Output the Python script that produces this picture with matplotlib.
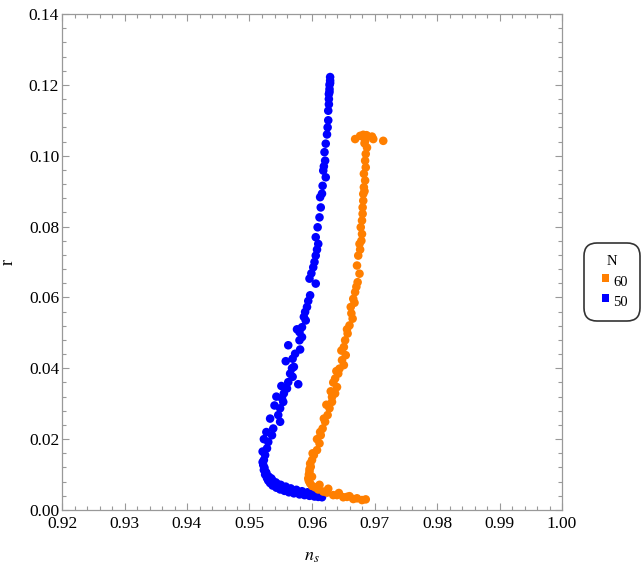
import numpy as np
import matplotlib
matplotlib.use("Agg")
import matplotlib.pyplot as plt
from matplotlib.ticker import MultipleLocator
from matplotlib.path import Path

plt.rcParams['font.family'] = ['Liberation Serif', 'DejaVu Serif']
plt.rcParams['mathtext.fontset'] = 'stix'

# N = 50 (blue) from top to bottom
ns_50 = [0.9629, 0.9629, 0.9628, 0.9628, 0.9627, 0.9627, 0.9626, 0.9626, 0.9625, 0.9624,
         0.9622, 0.9621, 0.9618, 0.9622, 0.9616, 0.9613, 0.9614, 0.9612, 0.9609, 0.9606,
         0.9610, 0.9606, 0.9602, 0.9596, 0.9606, 0.9597, 0.9592, 0.9589, 0.9590, 0.9584,
         0.9580, 0.9584, 0.9580, 0.9562, 0.9581, 0.9573, 0.9569, 0.9571, 0.9568, 0.9565,
         0.9569, 0.9562, 0.9578, 0.9560, 0.9555, 0.9552, 0.9554, 0.9549, 0.9546, 0.9549,
         0.9538, 0.9536, 0.9530, 0.9528, 0.9525, 0.9523, 0.9522, 0.9523, 0.9525, 0.9528,
         0.9530, 0.9533, 0.9537, 0.9543, 0.9549, 0.9556, 0.9563, 0.9571, 0.9580, 0.9588,
         0.9596, 0.9604, 0.9610, 0.9616, 0.9524, 0.9527, 0.9531, 0.9536, 0.9542, 0.9550,
         0.9558, 0.9566, 0.9575, 0.9584, 0.9593, 0.9602, 0.9611,
         0.9629, 0.9628, 0.9627, 0.9620, 0.9619, 0.9617, 0.9608, 0.9604, 0.9599, 0.9594,
         0.9587, 0.9576, 0.9558, 0.9551, 0.9543, 0.9540, 0.9533, 0.9527, 0.9523, 0.9521,
         0.9521, 0.9526, 0.9535, 0.9545, 0.9553]
r_50 = [0.1222, 0.1212, 0.1200, 0.1188, 0.1174, 0.1160, 0.1127, 0.1100, 0.1080, 0.1060,
        0.1034, 0.0986, 0.0958, 0.0939, 0.0893, 0.0883, 0.0854, 0.0826, 0.0798, 0.0770,
        0.0751, 0.0718, 0.0685, 0.0653, 0.0639, 0.0606, 0.0573, 0.0559, 0.0535, 0.0516,
        0.0502, 0.0488, 0.0479, 0.0465, 0.0453, 0.0441, 0.0427, 0.0404, 0.0400, 0.0385,
        0.0376, 0.0361, 0.0355, 0.0343, 0.0329, 0.0315, 0.0305, 0.0287, 0.0268, 0.0249,
        0.0230, 0.0211, 0.0192, 0.0174, 0.0155, 0.0141, 0.0127, 0.0113, 0.0100, 0.0090,
        0.0083, 0.0076, 0.0069, 0.0063, 0.0058, 0.0054, 0.0050, 0.0047, 0.0044, 0.0042,
        0.0040, 0.0038, 0.0037, 0.0036, 0.0119, 0.0105, 0.0094, 0.0085, 0.0078, 0.0071,
        0.0066, 0.0061, 0.0057, 0.0053, 0.0050, 0.0047, 0.0044,
        0.1205, 0.1180, 0.1145, 0.1010, 0.0970, 0.0915, 0.0735, 0.0700, 0.0668, 0.0590,
        0.0545, 0.0510, 0.0420, 0.0350, 0.0320, 0.0295, 0.0258, 0.0220, 0.0200, 0.0165,
        0.0135, 0.0107, 0.0089, 0.0073, 0.0065]

# N = 60 (orange)
ns_60 = [0.9669, 0.9677, 0.9682, 0.9688, 0.9696, 0.9698, 0.9685, 0.9714, 0.9688, 0.9686,
         0.9685, 0.9686, 0.9683, 0.9685, 0.9683, 0.9682, 0.9682, 0.9681, 0.9681, 0.9680,
         0.9678, 0.9680, 0.9676, 0.9674, 0.9672, 0.9676, 0.9673, 0.9669, 0.9666, 0.9662,
         0.9665, 0.9660, 0.9657, 0.9653, 0.9651, 0.9654, 0.9648, 0.9651, 0.9644, 0.9642,
         0.9637, 0.9640, 0.9637, 0.9632, 0.9632, 0.9628, 0.9625, 0.9621, 0.9617, 0.9614,
         0.9612, 0.9608, 0.9603, 0.9600, 0.9598, 0.9596, 0.9594, 0.9597, 0.9605, 0.9618,
         0.9634, 0.9650, 0.9666, 0.9680, 0.9595, 0.9595, 0.9600, 0.9610, 0.9624, 0.9640,
         0.9656, 0.9672, 0.9686,
         0.9683, 0.9684, 0.9687, 0.9684, 0.9679, 0.9677, 0.9671, 0.9668, 0.9663, 0.9656,
         0.9647, 0.9639, 0.9634, 0.9630, 0.9623, 0.9619, 0.9613, 0.9608, 0.9601, 0.9597,
         0.9596, 0.9600, 0.9612, 0.9626, 0.9643, 0.9660]
r_60 = [0.1047, 0.1056, 0.1059, 0.1056, 0.1054, 0.1047, 0.1042, 0.1042, 0.1023, 0.1005,
        0.0986, 0.0967, 0.0949, 0.0930, 0.0911, 0.0892, 0.0873, 0.0854, 0.0836, 0.0817,
        0.0798, 0.0779, 0.0751, 0.0718, 0.0690, 0.0667, 0.0643, 0.0615, 0.0596, 0.0573,
        0.0540, 0.0521, 0.0498, 0.0479, 0.0460, 0.0437, 0.0423, 0.0409, 0.0399, 0.0385,
        0.0371, 0.0347, 0.0329, 0.0319, 0.0305, 0.0287, 0.0268, 0.0249, 0.0230, 0.0211,
        0.0188, 0.0169, 0.0155, 0.0141, 0.0122, 0.0108, 0.0089, 0.0075, 0.0064, 0.0052,
        0.0042, 0.0036, 0.0031, 0.0028, 0.0100, 0.0082, 0.0068, 0.0058, 0.0049, 0.0042,
        0.0037, 0.0033, 0.0030,
        0.1052, 0.1035, 0.1058, 0.0900, 0.0760, 0.0735, 0.0630, 0.0585, 0.0555, 0.0510,
        0.0450, 0.0392, 0.0360, 0.0335, 0.0297, 0.0258, 0.0220, 0.0200, 0.0160, 0.0131,
        0.0115, 0.0094, 0.0071, 0.0060, 0.0048, 0.0039]

x_ticks = [0.92, 0.93, 0.94, 0.95, 0.96, 0.97, 0.98, 0.99, 1.00]
y_ticks = [0.00, 0.02, 0.04, 0.06, 0.08, 0.10, 0.12, 0.14]

blue = '#0000ff'
orange = '#ff7f00'
frame_gray = '#999999'

fig = plt.figure(figsize=(6.41, 5.64), dpi=100)
ax = fig.add_axes([62 / 641, 54 / 564, 500 / 641, 496 / 564])

ax.scatter(ns_50, r_50, s=38, color=blue, edgecolors='none', label='50', zorder=2)
ax.scatter(ns_60, r_60, s=38, color=orange, edgecolors='none', label='60', zorder=3)

ax.set_xlim(0.92, 1.00)
ax.set_ylim(0.0, 0.14)
ax.set_xticks(x_ticks)
ax.set_yticks(y_ticks)
ax.set_xticklabels([f"{v:.2f}" for v in x_ticks])
ax.set_yticklabels([f"{v:.2f}" for v in y_ticks])
ax.xaxis.set_minor_locator(MultipleLocator(0.002))
ax.yaxis.set_minor_locator(MultipleLocator(0.004))

ax.tick_params(which='both', direction='in', top=True, right=True, color=frame_gray,
               labelsize=12.5, width=0.8)
ax.tick_params(which='major', length=5)
ax.tick_params(axis='x', which='major', pad=4)
ax.tick_params(axis='y', which='major', pad=2)
ax.tick_params(which='minor', length=3)
for s in ax.spines.values():
    s.set_color(frame_gray)
    s.set_linewidth(0.9)

ax.set_xlabel(r'$n_s$', fontsize=13, labelpad=12)
ax.set_ylabel('r', fontsize=13, labelpad=9)

handles, labels = ax.get_legend_handles_labels()
leg = fig.legend(handles[::-1], labels[::-1], title='N', loc='center',
                 bbox_to_anchor=(612 / 641, 1 - 282 / 564), fontsize=10.5,
                 title_fontsize=10.5, markerscale=0.9, handletextpad=0.4,
                 handlelength=0.8, borderpad=0.6, frameon=True, fancybox=True)
for h in leg.legend_handles:
    h.set_paths([Path.unit_rectangle()])
leg.get_frame().set_edgecolor('black')
leg.get_frame().set_linewidth(1.2)
leg.get_frame().set_boxstyle('round,pad=0.2,rounding_size=0.9')

fig.savefig('out.png', dpi=100)
